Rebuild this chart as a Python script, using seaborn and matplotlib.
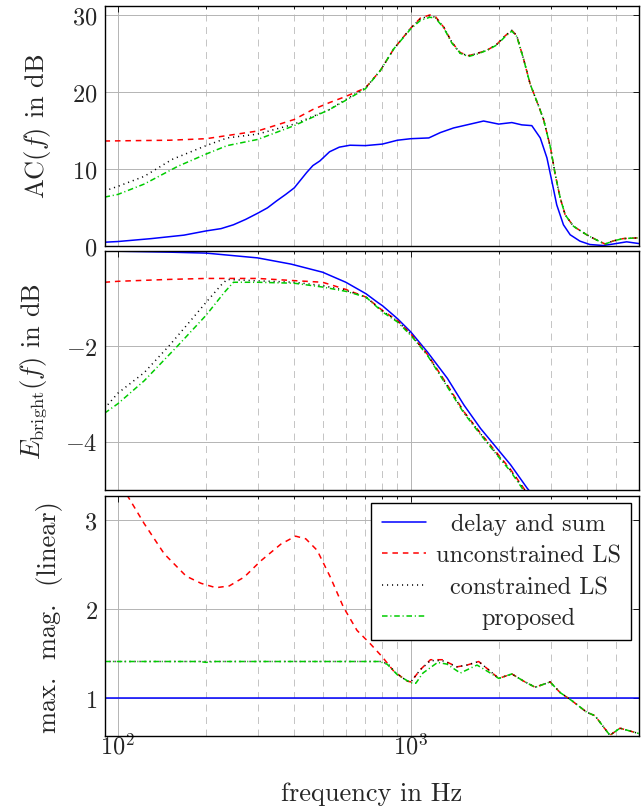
import numpy as np
import pandas as pd
import seaborn as sns
import matplotlib.pyplot as plt
from matplotlib.ticker import LogLocator, NullFormatter, FixedLocator, FixedFormatter

# ---- data ----
labels = ["delay and sum", "unconstrained LS", "constrained LS", "proposed"]

# AC(f) in dB
ac_f_ds = [90, 100, 130, 168, 200, 225, 248, 273, 300, 324, 348, 374, 400, 441, 463, 489, 528, 570, 620, 700, 800,
           900, 1000, 1152, 1262, 1400, 1555, 1772, 1995, 2213, 2393, 2589, 2767, 2916, 3030, 3149, 3320, 3500,
           3780, 4087, 4536, 4915, 5455, 6000]
ac_ds = [0.43, 0.52, 0.9, 1.35, 1.9, 2.2, 2.7, 3.4, 4.2, 4.9, 5.8, 6.65, 7.5, 9.5, 10.4, 11.0, 12.2, 12.8, 13.05, 13.0,
         13.2, 13.7, 13.9, 14.0, 14.7, 15.3, 15.7, 16.2, 15.8, 16.0, 15.7, 15.6, 14.0, 11.4, 8.4, 5.3, 2.7, 1.4,
         0.57, 0.13, 0.0, 0.2, 0.48, 0.26]

ac_f_ls = [90, 150, 200, 300, 400, 463, 528, 600, 700, 788, 875, 1000, 1079, 1161, 1213, 1296, 1383, 1476,
           1576, 1683, 1820, 1968, 2101, 2213, 2300, 2425, 2556, 2728, 2840, 3000, 3110, 3236, 3365, 3594,
           3985, 4420, 4610, 4915, 5305, 6000]
ac_uls = [13.6, 13.7, 13.9, 14.9, 16.4, 17.7, 18.6, 19.4, 20.5, 22.8, 25.6, 28.3, 29.6, 30.0, 29.8, 28.4, 26.4, 25.1,
          24.7, 25.0, 25.4, 26.2, 27.3, 28.0, 27.3, 24.3, 21.0, 18.2, 16.4, 12.7, 9.3, 6.2, 4.0, 2.5,
          1.4, 0.5, 0.2, 0.6, 0.9, 1.0]

ac_f_cls = [90, 100, 123, 153, 200, 236, 300, 400, 528, 600, 700, 788, 875, 1000, 1079, 1161, 1213, 1296, 1383,
            1476, 1576, 1683, 1820, 1968, 2101, 2213, 2300, 2425, 2556, 2728, 2840, 3000, 3110, 3236, 3365,
            3594, 3985, 4420, 4610, 4915, 5305, 6000]
ac_cls = [7.1, 7.7, 9.0, 11.2, 13.0, 14.0, 14.5, 15.8, 17.7, 19.0, 20.5, 22.8, 25.6, 28.3, 29.5, 29.9, 29.7, 28.4, 26.4,
          25.0, 24.7, 25.0, 25.4, 26.2, 27.3, 28.0, 27.3, 24.3, 21.0, 18.2, 16.4, 12.7, 9.3, 6.2, 4.0,
          2.5, 1.4, 0.5, 0.2, 0.6, 0.9, 1.0]

ac_f_prop = [90, 100, 123, 160, 200, 236, 300, 400, 528, 600, 700, 788, 875, 1000, 1079, 1161, 1213, 1296, 1383,
             1476, 1576, 1683, 1820, 1968, 2101, 2213, 2300, 2425, 2556, 2728, 2840, 3000, 3110, 3236, 3365,
             3594, 3985, 4420, 4610, 4915, 5305, 6000]
ac_prop = [6.3, 6.65, 8.0, 10.3, 11.9, 13.0, 13.8, 15.6, 17.7, 18.9, 20.4, 22.8, 25.6, 28.2, 29.3, 29.7, 29.6, 28.3, 26.3,
           25.0, 24.6, 24.9, 25.4, 26.1, 27.2, 27.9, 27.2, 24.3, 21.0, 18.2, 16.4, 12.7, 9.3, 6.2, 4.0,
           2.5, 1.4, 0.5, 0.2, 0.6, 0.9, 1.0]

# E_bright(f) in dB
eb_f_ds = [90, 100, 150, 200, 300, 390, 500, 600, 703, 770, 800, 900, 1000, 1140, 1333, 1519, 1731, 1948, 2192, 2497, 2560]
eb_ds = [-0.005, -0.01, -0.03, -0.05, -0.15, -0.28, -0.45, -0.66, -0.90, -1.08, -1.15, -1.42, -1.70, -2.12, -2.67,
         -3.23, -3.72, -4.10, -4.48, -4.97, -5.05]

eb_f_uls = [90, 100, 150, 200, 300, 411, 500, 600, 703, 800, 900, 1000, 1140, 1333, 1519, 1731, 1948, 2192, 2430, 2480]
eb_uls = [-0.66, -0.64, -0.60, -0.58, -0.58, -0.63, -0.66, -0.81, -0.97, -1.25, -1.46, -1.74, -2.17, -2.81, -3.37,
          -3.82, -4.20, -4.58, -4.97, -5.05]

eb_f_cls = [90, 100, 123, 150, 175, 200, 225, 236, 300, 400, 500, 600, 703, 800, 900, 1000, 1140, 1333, 1519, 1731,
            1948, 2192, 2420, 2470]
eb_cls = [-3.3, -2.98, -2.55, -1.98, -1.5, -1.08, -0.72, -0.60, -0.63, -0.66, -0.73, -0.83, -0.97, -1.26, -1.47,
          -1.75, -2.18, -2.83, -3.38, -3.83, -4.22, -4.60, -4.97, -5.05]

eb_f_prop = [90, 100, 123, 160, 200, 231, 248, 300, 400, 500, 600, 703, 800, 900, 1000, 1140, 1333, 1519, 1731,
             1948, 2192, 2400, 2450]
eb_prop = [-3.40, -3.2, -2.72, -1.99, -1.35, -0.87, -0.66, -0.66, -0.68, -0.76, -0.85, -0.97, -1.28, -1.49, -1.77,
           -2.19, -2.85, -3.40, -3.85, -4.24, -4.62, -4.97, -5.05]

# max. mag. (linear)
mm_f_ds = [90, 6000]
mm_ds = [1.0, 1.0]

mm_f_uls = [90, 100, 108, 123, 144, 171, 192, 216, 240, 270, 307, 360, 404, 438, 479, 531, 589, 655, 727, 800,
            875, 971, 1000, 1079, 1167, 1279, 1438, 1556, 1705, 1869, 1995, 2213, 2425, 2658, 2990, 3236, 3544,
            3985, 4254, 4783, 5178, 6000]
mm_uls = [3.68, 3.44, 3.27, 2.96, 2.62, 2.37, 2.29, 2.24, 2.26, 2.36, 2.54, 2.73, 2.82, 2.79, 2.66, 2.36, 2.02, 1.76,
          1.61, 1.46, 1.30, 1.19, 1.18, 1.32, 1.43, 1.43, 1.35, 1.37, 1.41, 1.30, 1.22, 1.27, 1.19, 1.12, 1.18,
          1.06, 0.97, 0.84, 0.80, 0.58, 0.66, 0.60]

mm_f_cls = [90, 800, 852, 875, 971, 1000, 1079, 1167, 1279, 1438, 1556, 1705, 1869, 1995, 2213, 2425, 2658, 2990,
            3236, 3544, 3985, 4254, 4783, 5178, 6000]
mm_cls = [1.41, 1.41, 1.36, 1.30, 1.19, 1.18, 1.32, 1.42, 1.42, 1.35, 1.37, 1.41, 1.30, 1.22, 1.27, 1.19, 1.12, 1.18,
          1.06, 0.97, 0.84, 0.80, 0.58, 0.66, 0.60]

mm_f_prop = [90, 190, 200, 215, 780, 830, 900, 1000, 1040, 1100, 1235, 1330, 1476, 1683, 1869, 1995, 2213, 2425,
             2658, 2990, 3236, 3544, 3985, 4254, 4783, 5178, 6000]
mm_prop = [1.41, 1.41, 1.40, 1.41, 1.41, 1.38, 1.26, 1.17, 1.165, 1.28, 1.40, 1.38, 1.28, 1.37, 1.28, 1.22, 1.27, 1.19,
           1.12, 1.18, 1.06, 0.97, 0.84, 0.80, 0.58, 0.66, 0.60]

# ---- style ----
sns.set_theme(style="white")
plt.rcParams['font.family'] = 'serif'
plt.rcParams['font.serif'] = ['cmr10']
plt.rcParams['mathtext.fontset'] = 'cm'
plt.rcParams['axes.formatter.use_mathtext'] = True
plt.rcParams['axes.unicode_minus'] = True
plt.rcParams['lines.scale_dashes'] = False

line_kw = [
    dict(color='#0000ff', linestyle='-'),
    dict(color='#ff0000', linestyle=(0, (4, 3.5))),
    dict(color='black', linestyle=(0, (0.8, 2.8))),
    dict(color='#00cc00', linestyle=(0, (4, 2, 0.8, 2))),
]

fig = plt.figure(figsize=(6.44, 8.12), dpi=100)
left, width = 0.1623, 0.8295
ax1 = fig.add_axes([left, 0.6964, width, 0.2953])
ax2 = fig.add_axes([left, 0.3957, width, 0.2943])
ax3 = fig.add_axes([left, 0.0927, width, 0.2956])

panels = [
    (ax1, [(ac_f_ds, ac_ds), (ac_f_ls, ac_uls), (ac_f_cls, ac_cls), (ac_f_prop, ac_prop)]),
    (ax2, [(eb_f_ds, eb_ds), (eb_f_uls, eb_uls), (eb_f_cls, eb_cls), (eb_f_prop, eb_prop)]),
    (ax3, [(mm_f_ds, mm_ds), (mm_f_uls, mm_uls), (mm_f_cls, mm_cls), (mm_f_prop, mm_prop)]),
]

for ax, series in panels:
    for (f, v), lab, kw in zip(series, labels, line_kw):
        sns.lineplot(x=f, y=v, ax=ax, label=lab, lw=1.1, **kw)
    ax.set_xscale('log')
    ax.set_xlim(90, 6000)
    ax.xaxis.set_major_locator(FixedLocator([100, 1000]))
    ax.xaxis.set_minor_locator(LogLocator(base=10, subs=np.arange(2, 10)))
    ax.xaxis.set_minor_formatter(NullFormatter())
    ax.grid(True, which='major', color='#b4b4b4', lw=0.7, ls='-')
    ax.grid(True, which='minor', axis='x', color='#c4c4c4', lw=0.7, ls=(0, (5, 4)))
    ax.set_axisbelow(True)
    ax.tick_params(which='both', direction='in', top=True, right=True, color='black', width=0.6)
    ax.tick_params(which='major', length=4.5, labelsize=17.5, pad=5)
    ax.tick_params(which='minor', length=2.5)
    for s in ax.spines.values():
        s.set_color('black')
        s.set_linewidth(1.0)
    if ax is not ax3:
        ax.get_legend().remove()
        ax.tick_params(labelbottom=False)

ax1.set_ylim(0, 31.2)
ax1.set_yticks([0, 10, 20, 30])
ax1.set_ylabel(r'AC$(f)$ in dB', fontsize=19)
ax1.yaxis.set_label_coords(-0.097, 0.5)

ax2.set_ylim(-5, 0)
ax2.set_yticks([-4, -2, 0])
# the 0 of this panel sits on top of the 0 of the panel above
ax2.yaxis.set_major_formatter(FixedFormatter([r'$-4$', r'$-2$', '']))
ax2.set_ylabel(r'$E_{\mathrm{bright}}(f)$ in dB', fontsize=19)
ax2.yaxis.set_label_coords(-0.103, 0.5)

ax3.set_ylim(0.575, 3.275)
ax3.set_yticks([1, 2, 3])
ax3.set_ylabel('max.  mag.  (linear)', fontsize=19)
ax3.yaxis.set_label_coords(-0.077, 0.5)
ax3.set_xlabel('frequency in Hz', fontsize=19, labelpad=16)
ax3.tick_params(axis='x', which='major', pad=-2)

leg = ax3.legend(loc='upper right', fontsize=17.5, frameon=True, fancybox=False, framealpha=1,
                 edgecolor='black', handlelength=1.85, labelspacing=0.38, borderpad=0.42,
                 borderaxespad=0.3, handletextpad=0.4)
leg.get_frame().set_linewidth(1.0)

# center the legend texts like pgfplots does
fig.canvas.draw()
texts = leg.get_texts()
widths = [t.get_window_extent().width for t in texts]
wmax = max(widths)
for t, w in zip(texts, widths):
    t.set_position(((wmax - w) / 2, 0))

fig.savefig('out.png', dpi=100)
